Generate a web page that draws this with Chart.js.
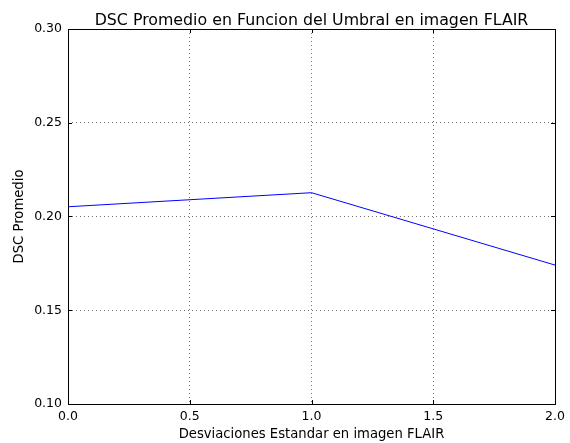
<!DOCTYPE html>
<html>
<head>
<meta charset="utf-8">
<style>
  html, body { margin: 0; padding: 0; background: #fff; }
  #wrap { width: 570px; height: 443px; }
</style>
<script src="https://cdn.jsdelivr.net/npm/chart.js@4/dist/chart.umd.min.js"></script>
</head>
<body>
<div id="wrap"><canvas id="c" width="570" height="443"></canvas></div>
<script>
// Threshold (in standard deviations) and mean DSC at each threshold
const thresholds = [0.0, 1.0, 2.0];
const meanDSC = [0.2052, 0.2127, 0.1741];

const xTicks = [0.0, 0.5, 1.0, 1.5, 2.0];
const yTicks = [0.10, 0.15, 0.20, 0.25, 0.30];

const chartTitle = 'DSC Promedio en Funcion del Umbral en imagen FLAIR';

const FONT = "'DejaVu Sans', sans-serif";

// Title centred over the plot area, frame, and inward tick marks on all sides
const framePlugin = {
  id: 'frame',
  afterDraw(chart) {
    const { ctx, chartArea: a, scales: { x, y } } = chart;
    ctx.save();
    ctx.fillStyle = '#000';
    ctx.font = '15.8px ' + FONT;
    ctx.textAlign = 'center';
    ctx.textBaseline = 'alphabetic';
    ctx.fillText(chartTitle, (a.left + a.right) / 2, 25);

    ctx.strokeStyle = '#000';
    ctx.lineWidth = 1;
    const len = 4;
    ctx.beginPath();
    xTicks.forEach(v => {
      const px = Math.round(x.getPixelForValue(v)) + 0.5;
      ctx.moveTo(px, a.bottom); ctx.lineTo(px, a.bottom - len);
      ctx.moveTo(px, a.top); ctx.lineTo(px, a.top + len);
    });
    yTicks.forEach(v => {
      const py = Math.round(y.getPixelForValue(v)) + 0.5;
      ctx.moveTo(a.left, py); ctx.lineTo(a.left + len, py);
      ctx.moveTo(a.right, py); ctx.lineTo(a.right - len, py);
    });
    ctx.stroke();
    ctx.strokeRect(Math.round(a.left) + 0.5, Math.round(a.top) + 0.5,
                   Math.round(a.right - a.left), Math.round(a.bottom - a.top));
    ctx.restore();
  }
};

new Chart(document.getElementById('c'), {
  type: 'line',
  data: {
    datasets: [{
      data: thresholds.map((t, i) => ({ x: t, y: meanDSC[i] })),
      borderColor: '#0000ff',
      borderWidth: 1,
      pointRadius: 0,
      tension: 0,
      fill: false
    }]
  },
  options: {
    responsive: false,
    animation: false,
    devicePixelRatio: 1,
    layout: { padding: { left: 0, right: 15, top: 29, bottom: 0 } },
    plugins: {
      legend: { display: false },
      tooltip: { enabled: false },
      title: { display: false }
    },
    scales: {
      x: {
        type: 'linear',
        min: 0, max: 2,
        afterBuildTicks(s) { s.ticks = xTicks.map(v => ({ value: v })); },
        afterFit(s) { s.height = 39; },
        ticks: {
          color: '#000',
          padding: 5,
          font: { family: FONT, size: 12.5 },
          maxRotation: 0,
          callback: v => v.toFixed(1)
        },
        grid: {
          color: 'rgba(0,0,0,0.55)',
          lineWidth: 1,
          drawTicks: false
        },
        border: { display: false, dash: [1, 3] },
        title: {
          display: true,
          text: 'Desviaciones Estandar en imagen FLAIR',
          color: '#000',
          font: { family: FONT, size: 13.2, lineHeight: 1.2 },
          padding: { top: 0, bottom: 1 }
        }
      },
      y: {
        type: 'linear',
        min: 0.10, max: 0.30,
        afterBuildTicks(s) { s.ticks = yTicks.map(v => ({ value: v })); },
        afterFit(s) { s.width = 68; },
        ticks: {
          color: '#000',
          padding: 6,
          font: { family: FONT, size: 12.5 },
          callback: v => v.toFixed(2)
        },
        grid: {
          color: 'rgba(0,0,0,0.55)',
          lineWidth: 1,
          drawTicks: false
        },
        border: { display: false, dash: [1, 3] },
        title: {
          display: true,
          text: 'DSC Promedio',
          color: '#000',
          font: { family: FONT, size: 13.2, lineHeight: 1.2 },
          padding: { top: 12, bottom: 0 }
        }
      }
    }
  },
  plugins: [framePlugin]
});
</script>
</body>
</html>
